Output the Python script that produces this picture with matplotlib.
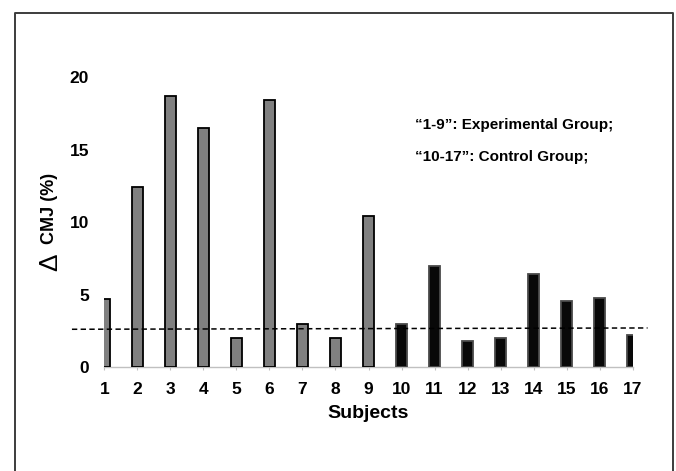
import numpy as np
import matplotlib
matplotlib.use('Agg')
import matplotlib.pyplot as plt
from matplotlib.lines import Line2D

plt.rcParams['font.family'] = ['Liberation Sans', 'DejaVu Sans']

subjects = list(range(1, 18))
delta_cmj = [4.7, 12.4, 18.7, 16.5, 2.0, 18.4, 3.0, 2.0, 10.4,
             3.0, 7.0, 1.8, 2.0, 6.4, 4.6, 4.8, 2.2]
group = ['exp'] * 9 + ['ctrl'] * 8
ref_x = [0.02, 17.45]
ref_y = [2.62, 2.71]
yticks = [0, 5, 10, 15, 20]

W, H = 676, 471
fig = plt.figure(figsize=(W / 100, H / 100), dpi=100)
fig.patch.set_facecolor('white')

# axes placed so that x runs from subject 1 to 17 and y from 0 to 20
x0, x1 = 104.3, 632.7
y0, y20 = 367.3, 77.0
ax = fig.add_axes([x0 / W, 1 - y0 / H, (x1 - x0) / W, (y0 - y20) / H])

fill = {'exp': '#808080', 'ctrl': '#080808'}
edge = {'exp': '#000000', 'ctrl': '#4a4a4a'}
for s, v, g in zip(subjects, delta_cmj, group):
    ax.bar(s, v, width=0.32, color=fill[g], edgecolor=edge[g], linewidth=1.3, zorder=3)

ax.plot(ref_x, ref_y, color='black', linestyle='--', dashes=(3.5, 2.2),
        linewidth=1.1, clip_on=False, zorder=4)

ax.set_xlim(1, 17)
ax.set_ylim(0, 20)
ax.set_xticks(subjects)
ax.set_xticklabels([str(s) for s in subjects], fontsize=12.5, fontweight='bold')
ax.set_yticks(yticks)
ax.set_yticklabels([str(t) for t in yticks], fontsize=12.5, fontweight='bold')
ax.tick_params(axis='x', length=2.5, color='#c0c0c0', pad=8)
ax.tick_params(axis='y', length=0, pad=11)
for side in ['top', 'right', 'left']:
    ax.spines[side].set_visible(False)
ax.spines['bottom'].set_color('#c0c0c0')
ax.spines['bottom'].set_linewidth(1.0)
ax.set_xlabel('Subjects', fontsize=14, fontweight='bold', labelpad=6)

# y label: large thin delta followed by bold text
fig.text(50 / W, 1 - 262 / H, 'Δ', rotation=90, fontsize=19,
         ha='center', va='center')
fig.text(49 / W, 1 - 208 / H, 'CMJ (%)', rotation=90, fontsize=13,
         fontweight='bold', ha='center', va='center')

fig.text(415 / W, 1 - 125 / H, '\u201c1-9\u201d: Experimental Group;',
         fontsize=11, fontweight='bold', ha='left', va='center')
fig.text(415 / W, 1 - 157 / H, '\u201c10-17\u201d: Control Group;',
         fontsize=11, fontweight='bold', ha='left', va='center')

# outer frame (open at the bottom edge)
bx0, bx1, by = 14.7, 672.7, 12.7
frame = Line2D([bx0 / W, bx0 / W, bx1 / W, bx1 / W],
               [0, 1 - by / H, 1 - by / H, 0],
               transform=fig.transFigure, color='#3c3c3c', linewidth=1.4)
fig.add_artist(frame)

fig.savefig('out.png', dpi=100)
